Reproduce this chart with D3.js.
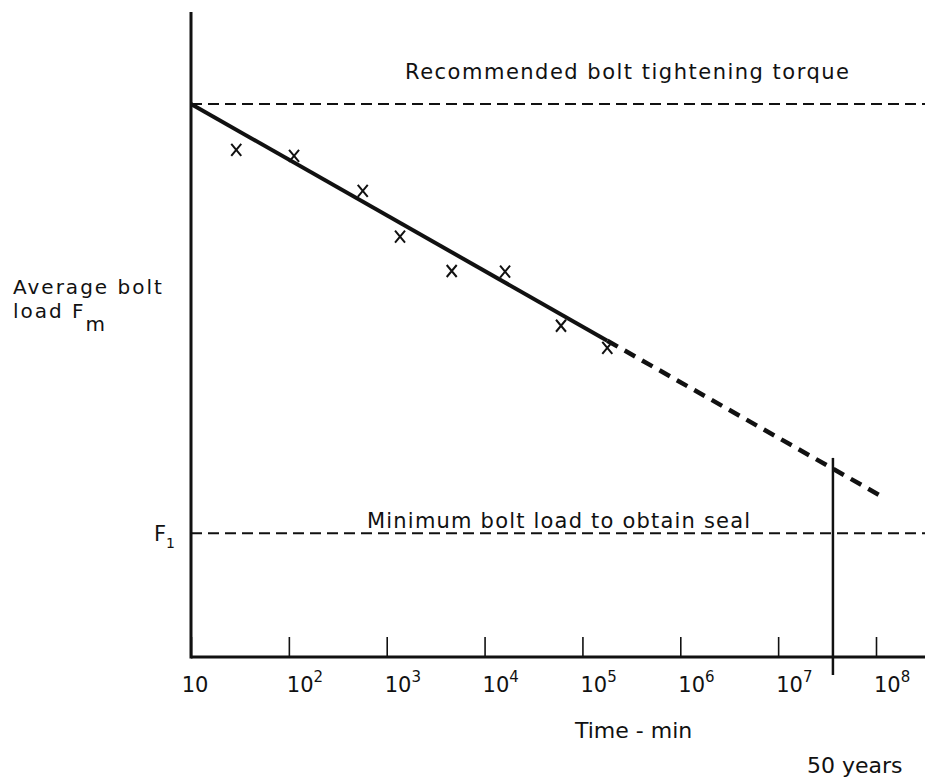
<!DOCTYPE html>
<html>
<head>
<meta charset="utf-8">
<script src="https://cdn.jsdelivr.net/npm/d3@7"></script>
<style>
  body { margin: 0; background: #fff; }
  svg text { font-family: "DejaVu Sans", sans-serif; fill: #111; }
</style>
</head>
<body>
<div id="chart"></div>
<script>
// measured points (time in minutes, bolt load relative to recommended torque)
const pointTimes = [29, 113, 569, 1368, 4616, 16200, 60400, 179500];
const pointLoads = [0.917, 0.906, 0.843, 0.760, 0.698, 0.697, 0.599, 0.559];

// fitted line, solid over the test range then extrapolated
const fitTimes = [10, 179500];
const fitLoads = [1.0, 0.572];
const extrapTimes = [179500, 1.18e8];
const extrapLoads = [0.572, 0.289];

// reference levels
const torqueLoad = 1.0;
const minLoad = 0.224;
const fiftyYears = 3.63e7;
const fiftyYearsTop = 0.36;

const tickValues = [10, 1e2, 1e3, 1e4, 1e5, 1e6, 1e7, 1e8];
const tickExps = [1, 2, 3, 4, 5, 6, 7, 8];

const width = 925, height = 781;

const svg = d3.select('#chart').append('svg')
  .attr('width', width).attr('height', height);

const x = d3.scaleLog().domain([10, 1e8]).range([191, 876]);
const y = d3.scaleLinear().domain([0, 1]).range([657, 104]);

// axes
const xAxis = d3.axisBottom(x).tickValues(tickValues).tickSize(-20).tickFormat('');
const gx = svg.append('g').attr('transform', `translate(0, ${y(0)})`).call(xAxis);
gx.select('.domain').remove();
gx.selectAll('.tick line').attr('stroke', '#111').attr('stroke-width', 1.6);

svg.append('line')
  .attr('x1', x(10)).attr('x2', width)
  .attr('y1', y(0)).attr('y2', y(0))
  .attr('stroke', '#111').attr('stroke-width', 3);
svg.append('line')
  .attr('x1', x(10)).attr('x2', x(10))
  .attr('y1', 12).attr('y2', y(0) + 1.5)
  .attr('stroke', '#111').attr('stroke-width', 3);

// tick labels with exponents
tickValues.forEach((v, i) => {
  const t = svg.append('text')
    .attr('y', y(0) + 35)
    .attr('font-size', 21);
  if (tickExps[i] === 1) {
    t.attr('x', x(v) + 4).attr('text-anchor', 'middle').text('10');
  } else {
    t.attr('x', x(v) - 2);
    t.append('tspan').text('10');
    t.append('tspan').attr('font-size', 15).attr('dy', -10).text(tickExps[i]);
  }
});

// reference dashed lines
svg.append('line')
  .attr('x1', x(10)).attr('x2', width)
  .attr('y1', y(torqueLoad)).attr('y2', y(torqueLoad))
  .attr('stroke', '#111').attr('stroke-width', 2).attr('stroke-dasharray', '11,6');
svg.append('line')
  .attr('x1', x(10)).attr('x2', width)
  .attr('y1', y(minLoad)).attr('y2', y(minLoad))
  .attr('stroke', '#111').attr('stroke-width', 2).attr('stroke-dasharray', '11,6');

svg.append('text').text('Recommended bolt tightening torque')
  .attr('x', 405).attr('y', y(torqueLoad) - 25).attr('font-size', 21)
  .attr('letter-spacing', 1.5);
svg.append('text').text('Minimum bolt load to obtain seal')
  .attr('x', 367).attr('y', y(minLoad) - 5).attr('font-size', 21)
  .attr('letter-spacing', 1.2);

// fitted line
const line = d3.line().x(d => x(d[0])).y(d => y(d[1]));
svg.append('path')
  .datum(d3.zip(fitTimes, fitLoads))
  .attr('d', line)
  .attr('fill', 'none').attr('stroke', '#111').attr('stroke-width', 4);
svg.append('path')
  .datum(d3.zip(extrapTimes, extrapLoads))
  .attr('d', line)
  .attr('fill', 'none').attr('stroke', '#111').attr('stroke-width', 4.5)
  .attr('stroke-dasharray', '12,8');

// 50 years marker
svg.append('line')
  .attr('x1', x(fiftyYears)).attr('x2', x(fiftyYears))
  .attr('y1', y(fiftyYearsTop)).attr('y2', y(0) + 18)
  .attr('stroke', '#111').attr('stroke-width', 2.5);

// data crosses
const pts = d3.zip(pointTimes, pointLoads);
svg.selectAll('.pt').data(pts).join('path')
  .attr('class', 'pt')
  .attr('transform', d => `translate(${x(d[0])}, ${y(d[1])})`)
  .attr('d', 'M-5,-6L5,6M5,-6L-5,6')
  .attr('stroke', '#111').attr('stroke-width', 2).attr('fill', 'none');

// axis titles
const yl = svg.append('g').attr('font-size', 20).attr('letter-spacing', 2);
yl.append('text').text('Average bolt').attr('x', 13).attr('y', 294);
const t2 = yl.append('text').attr('x', 13).attr('y', 318);
t2.append('tspan').text('load F');
t2.append('tspan').attr('dy', 13).text('m');

const f1 = svg.append('text').attr('x', 154).attr('y', y(minLoad) + 8).attr('font-size', 21);
f1.append('tspan').text('F');
f1.append('tspan').attr('font-size', 14).attr('dy', 7).text('1');

svg.append('text').text('Time - min')
  .attr('x', 575).attr('y', 738).attr('font-size', 22);
svg.append('text').text('50 years')
  .attr('x', 807).attr('y', 773).attr('font-size', 22);
</script>
</body>
</html>
